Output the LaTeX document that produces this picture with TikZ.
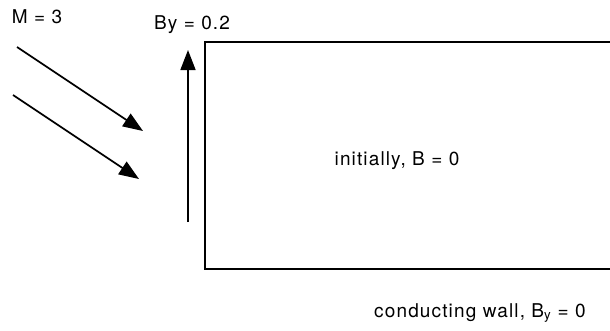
\documentclass[tikz,border=0pt]{standalone}
\usepackage{fontspec}
\setmainfont{TeX Gyre Heros}[LetterSpace=6]
\usetikzlibrary{arrows.meta, positioning, calc}
\tikzset{
    label_text/.style={inner sep=0pt, font=\fontsize{19}{22}\selectfont},
    flow_arrow/.style={-{Triangle[length=20pt, width=15pt]}, line width=1.7pt},
    wall/.style={line width=1.6pt}
}

\begin{document}
\begin{tikzpicture}[x=1pt, y=-1pt]
			\useasboundingbox (0,0) rectangle (610,330);
			% open box (right side runs off the page)
			\draw [wall] (610,42) -- (205,42) -- (205,269) -- (610,269);

			\node (mach) [label_text] at (37,17) {M = 3};
			\node (by) [label_text] at (192,25) {By = 0.2};
			\node (init) [label_text] at (397,161) {initially, B = 0};
			\node (cond) [label_text] at (480,313) {conducting wall, B$_\mathrm{y}$ = 0};

			\coordinate (in1s) at (17,47);
			\coordinate (in1e) at (143,131);
			\coordinate (in2s) at (13,95);
			\coordinate (in2e) at (139,179);
			\coordinate (bys) at (188,222);
			\coordinate (bye) at (188,50);

			\draw [flow_arrow] (in1s) -- (in1e);
			\draw [flow_arrow] (in2s) -- (in2e);
			\draw [flow_arrow] (bys) -- (bye);
		\end{tikzpicture}
\end{document}
